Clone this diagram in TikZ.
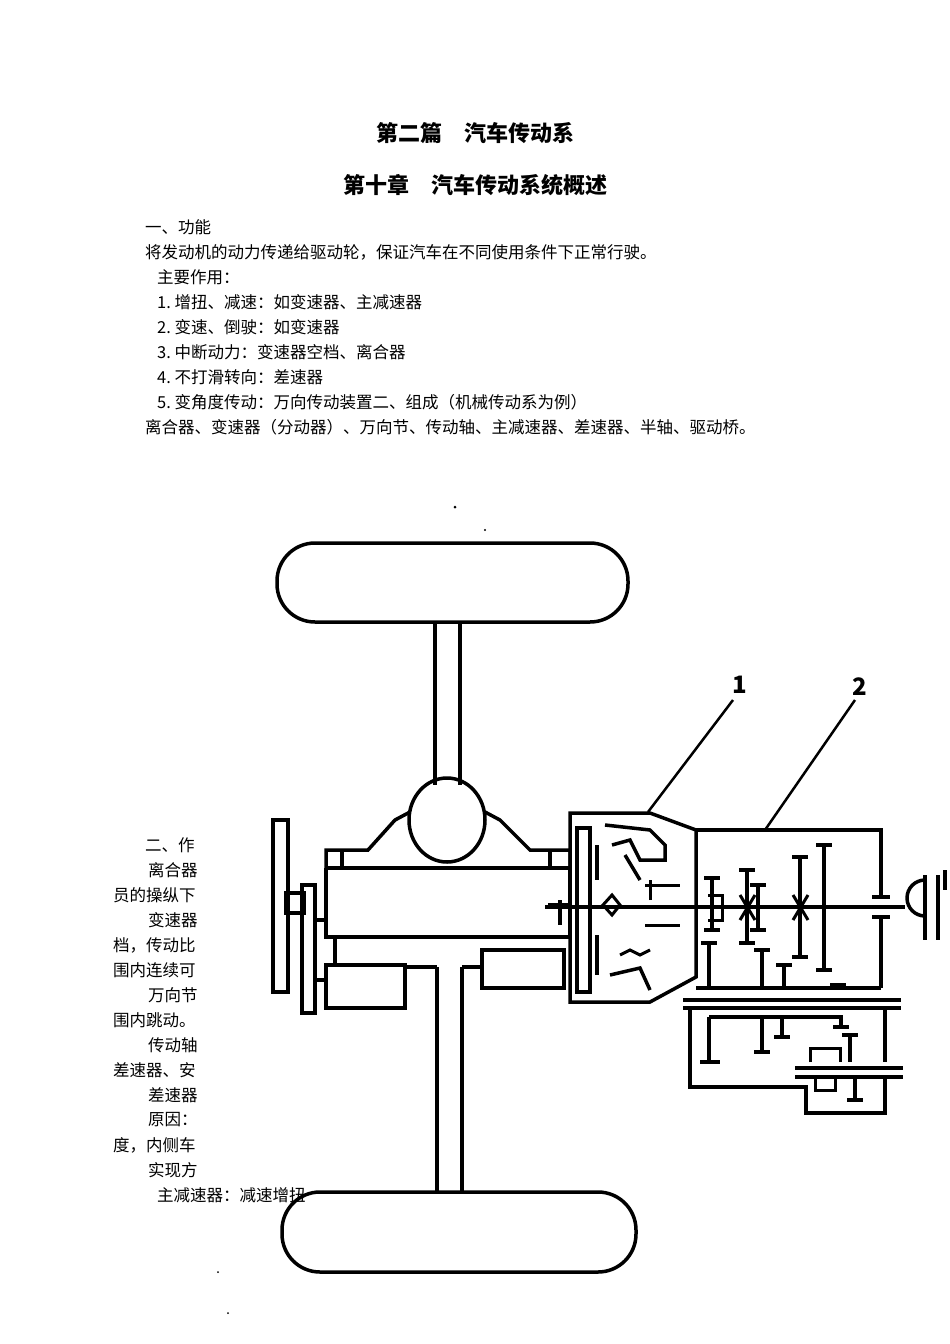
\documentclass[tikz,border=0pt]{standalone}
\usepackage{fontspec}
\setmainfont{Noto Sans CJK SC}
\begin{document}
\begin{tikzpicture}[x=1pt,y=-1pt,
  L/.style={line width=3.5pt,line join=miter},
  T/.style={line width=3pt},
  txt/.style={anchor=west,inner sep=0pt,font=\fontsize{16.5}{16.5}\selectfont},
  ttl/.style={inner sep=0pt,font=\fontsize{22}{22}\selectfont\bfseries},
  num/.style={inner sep=0pt,font=\fontsize{24}{24}\selectfont\bfseries\rmfamily}]
\path[use as bounding box,fill=white] (0,0) rectangle (950,1344);
% titles
\node[ttl] (t1) at (475,133) {第二篇\quad 汽车传动系};
\node[ttl] (t2) at (475,185) {第十章\quad 汽车传动系统概述};
% text
\node[txt] (a1) at (145,227) {一、功能};
\node[txt] (a2) at (145,252) {将发动机的动力传递给驱动轮，保证汽车在不同使用条件下正常行驶。};
\node[txt] (a3) at (157,277) {主要作用：};
\node[txt] (a4) at (157,302) {1.\ 增扭、减速：如变速器、主减速器};
\node[txt] (a5) at (157,327) {2.\ 变速、倒驶：如变速器};
\node[txt] (a6) at (157,352) {3.\ 中断动力：变速器空档、离合器};
\node[txt] (a7) at (157,377) {4.\ 不打滑转向：差速器};
\node[txt] (a8) at (157,402) {5.\ 变角度传动：万向传动装置二、组成（机械传动系为例）};
\node[txt] (a9) at (145,427) {离合器、变速器（分动器）、万向节、传动轴、主减速器、差速器、半轴、驱动桥。};
\node[txt] (b1) at (145,845) {二、作};
\node[txt] (b2) at (148,870) {离合器};
\node[txt] (b3) at (113,895) {员的操纵下};
\node[txt] (b4) at (148,920) {变速器};
\node[txt] (b5) at (113,945) {档，传动比};
\node[txt] (b6) at (113,970) {围内连续可};
\node[txt] (b7) at (148,995) {万向节};
\node[txt] (b8) at (113,1020) {围内跳动。};
\node[txt] (b9) at (148,1045) {传动轴};
\node[txt] (b10) at (113,1070) {差速器、安};
\node[txt] (b11) at (148,1095) {差速器};
\node[txt] (b12) at (148,1120) {原因：};
\node[txt] (b13) at (113,1145) {度，内侧车};
\node[txt] (b14) at (148,1170) {实现方};
\node[txt] (b15) at (157,1195) {主减速器：减速增扭};
% dots
\fill (455,507) circle (1.5pt) (485,530) circle (1.2pt) (218,1272) circle (1pt) (228,1313) circle (1pt);
% wheels
\draw[L,rounded corners=38pt] (277,543) rectangle (628,622);
\draw[L,rounded corners=38pt] (282,1192) rectangle (636,1272);
% axle shafts
\draw[L] (435,622) -- (435,785) (460,622) -- (460,785);
\draw[L] (437,967) -- (437,1192) (462,967) -- (462,1192);
% differential circle
\draw[L] (447,820) ellipse (38pt and 42pt);
% top plate and humps
\draw[L] (326,868) -- (326,850) -- (368,850) -- (395,820) -- (410,812);
\draw[L] (485,812) -- (500,820) -- (530,850) -- (570,850) -- (570,868);
\draw[L] (326,868) -- (570,868);
\draw[L] (342,850) -- (342,868) (550,850) -- (550,868);
% engine body
\draw[L] (326,868) -- (326,937) -- (570,937);
\draw[L] (570,868) -- (570,937);
\draw[L] (335,937) -- (335,965);
\draw[L] (326,965) rectangle (405,1008);
\draw[L] (405,967) -- (437,967) (462,967) -- (482,967);
\draw[L] (482,950) rectangle (564,988);
\draw[L] (560,900) -- (560,925) (548,905) -- (570,905);
% fan
\draw[L] (273,820) rectangle (288,992);
\draw[L] (286,893) rectangle (304,913);
\draw[L] (302,885) rectangle (315,1013);
\draw[L] (315,920) -- (326,920) (315,980) -- (326,980);
% clutch housing
\draw[L] (570,813) -- (650,813) -- (696,830) -- (696,977) -- (650,1002) -- (570,1002) -- cycle;
\draw[L] (577,828) rectangle (590,992);
\draw[line width=4pt] (597,845) -- (597,880) (597,935) -- (597,975);
\draw[L] (605,825) -- (650,830) -- (665,845) -- (665,860) -- (640,860) -- (630,840) -- (612,845);
\draw[L] (625,855) -- (640,880);
\draw[T] (645,885) -- (680,885) (645,925) -- (680,925) (650,900) -- (650,880);
\draw[L] (610,975) -- (640,968) -- (650,990);
\draw[T] (620,955) -- (630,950) -- (640,955) -- (650,950);
\draw[T] (603,905) -- (612,895) -- (620,905) -- (612,915) -- cycle;
% main shaft
\draw[L] (545,907) -- (899,907);
% leaders and labels
\node[num] (n1) at (740,685) {1};
\node[num] (n2) at (860,687) {2};
\draw[line width=2.5pt] (733,700) -- (648,812);
\draw[line width=2.5pt] (855,700) -- (765,830);
% transmission box
\draw[L] (696,830) -- (881,830) -- (881,897);
\draw[L] (881,917) -- (881,988);
\draw[L] (696,988) -- (881,988);
\draw[L] (872,897) -- (890,897) (872,917) -- (890,917);
% flange
\draw[L] (899,907) -- (905,907);
\draw[L] (925,880) arc (90:270:18pt);
\draw[L] (925,875) -- (925,940) (938,875) -- (938,940) (945,870) -- (945,890);
% gears
\foreach \x/\a/\b in {747/870/943,758/885/930,800/857/957,824/845/970,712/878/930}
  {\draw[L] (\x,\a) -- (\x,\b) (\x-8,\a) -- (\x+8,\a) (\x-8,\b) -- (\x+8,\b);}
\draw[T] (740,895) -- (755,920) (740,920) -- (755,895) (793,895) -- (808,920) (793,920) -- (808,895);
\draw[T] (708,895) -- (722,895) -- (722,920) -- (708,920);
% countershaft
\foreach \x/\a in {709/943,762/950,784/965,838/985}
  {\draw[L] (\x,\a) -- (\x,988) (\x-8,\a) -- (\x+8,\a);}
% separator
\draw[L] (683,1000) -- (901,1000) (683,1008) -- (901,1008);
% lower box
\draw[L] (690,1008) -- (690,1087) -- (806,1087) -- (806,1113) -- (885,1113) -- (885,1077);
\draw[L] (885,1008) -- (885,1062);
\draw[L] (795,1068) -- (903,1068) (795,1077) -- (903,1077);
\draw[L] (700,1062) -- (720,1062);
\draw[L] (709,1017) -- (841,1017) -- (841,1027);
\draw[L] (709,1017) -- (709,1062);
\draw[L] (762,1017) -- (762,1052) (754,1052) -- (770,1052);
\draw[L] (782,1017) -- (782,1037) (774,1037) -- (790,1037);
\draw[L] (833,1027) -- (849,1027);
\draw[L] (850,1035) -- (850,1062) (842,1035) -- (858,1035);
\draw[T] (810,1062) -- (810,1048) -- (840,1048) -- (840,1062);
\draw[T] (815,1077) -- (815,1090) -- (835,1090) -- (835,1077);
\draw[L] (855,1077) -- (855,1100) (847,1100) -- (863,1100);
\end{tikzpicture}
\end{document}
